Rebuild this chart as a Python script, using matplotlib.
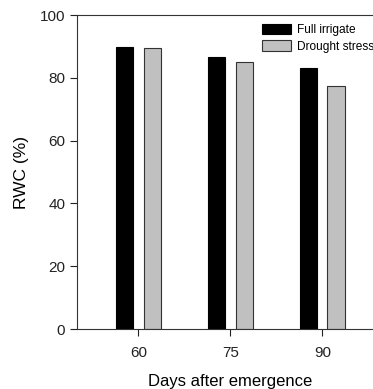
import matplotlib.pyplot as plt
import numpy as np

plt.rcParams['font.family'] = ['Liberation Sans', 'DejaVu Sans']

days = [60, 75, 90]
full_irrigate = [89.9, 86.6, 83.2]
drought_stress = [89.6, 85.2, 77.5]

fig = plt.figure(figsize=(3.73, 3.89), dpi=100)
ax = fig.add_axes([0.2064, 0.1542, 0.822, 0.807])

x = np.array(days, dtype=float)
w = 2.8
ax.bar(x - 2.25, full_irrigate, width=w, color='black', edgecolor='black', lw=0.8, label='Full irrigate')
ax.bar(x + 2.25, drought_stress, width=w, color='#c0c0c0', edgecolor='#333333', lw=0.8, label='Drought stress')

ax.set_xlim(50, 100)
ax.set_ylim(0, 100)
ax.set_xticks(days)
ax.set_yticks([0, 20, 40, 60, 80, 100])
ax.tick_params(direction='out', length=5, width=0.8, labelsize=11, colors='#222222')
ax.tick_params(axis='x', pad=7)
for s in ax.spines.values():
    s.set_linewidth(0.8)
    s.set_color('#333333')
ax.spines['right'].set_visible(False)

ax.set_xlabel('Days after emergence', fontsize=12, labelpad=10)
ax.set_ylabel('RWC (%)', fontsize=12.5, labelpad=8)

ax.legend(loc='upper left', bbox_to_anchor=(0.605, 0.972), frameon=False, fontsize=8.6,
          handlelength=2.4, handleheight=0.95, handletextpad=0.5, labelspacing=0.35,
          borderaxespad=0, borderpad=0)

fig.savefig('out.png', dpi=100)
